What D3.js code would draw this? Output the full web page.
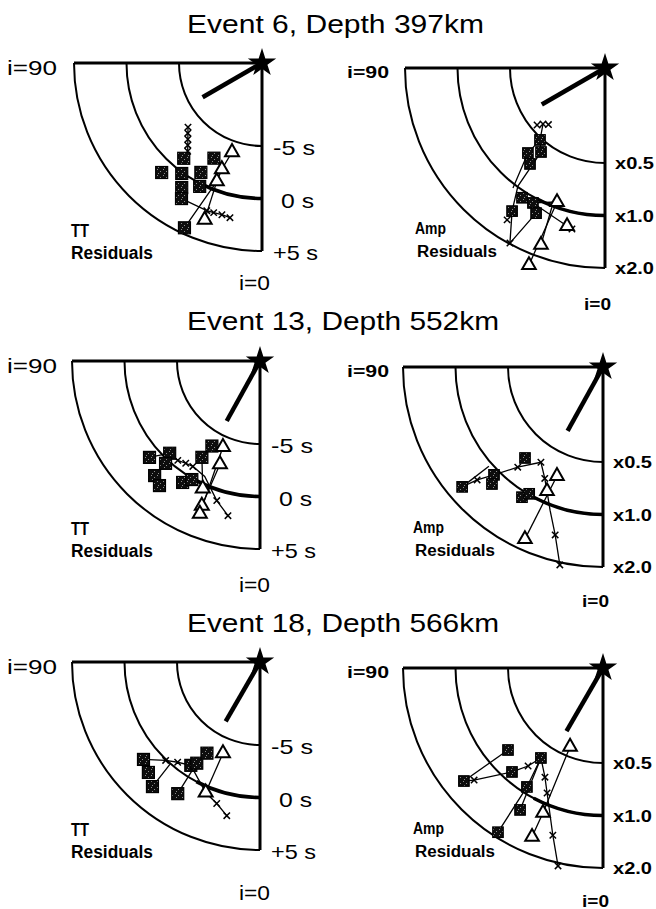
<!DOCTYPE html>
<html>
<head>
<meta charset="utf-8">
<script src="https://cdn.jsdelivr.net/npm/d3@7"></script>
<style>
  html, body { margin: 0; padding: 0; background: #fff; }
  svg { display: block; font-family: "Liberation Sans", Arial, Helvetica, sans-serif; }
</style>
</head>
<body>
<svg id="chart" width="656" height="909"></svg>
<script>
// ---- Titles and axis labels ----
const eventTitles = ["Event 6, Depth 397km", "Event 13, Depth 552km", "Event 18, Depth 566km"];
const ttTicks = [-5, 0, 5];
const ttTickLabels = ["-5 s", "0 s", "+5 s"];
const ampTicks = [0.5, 1, 2];
const ampTickLabels = ["x0.5", "x1.0", "x2.0"];
// incidence angle (deg from vertical) of the arrow drawn from the source
const arrowIncidence = [60, 29, 30];

// ---- Residuals: [incidence angle (deg), residual] ----
// Event 6, travel-time residuals (s)
const ev6TTSquares = [[42.5, 1.24], [39.4, -1.16], [36.0, 0.10], [32.8, 1.21], [30.7, 2.11], [26.8, -2.75], [29.2, -0.97], [26.8, 0.26], [25.2, 4.44]];
const ev6TTTriangles = [[18.6, -3.95], [20.7, -2.09], [20.9, -0.84], [20.1, 2.99]];
const ev6TTCrosses = [[49.1, -3.58], [46.6, -3.18], [44.2, -2.78], [42.1, -2.36], [40.1, -1.92], [20.5, 2.11], [17.9, 2.07], [14.8, 2.04], [11.7, 2.14]];
const ev6TTTraces = [
  [[25.2, 4.44], [20.9, -0.84], [20.7, -2.09], [18.6, -3.95]],
  [[20.1, 2.99], [20.9, -0.84]],
  [[30.7, 2.11], [20.5, 2.11], [17.9, 2.07], [14.8, 2.04], [11.7, 2.14]],
  [[39.4, -1.16], [40.1, -1.92], [49.1, -3.58]]
];
// Event 6, amplitude ratios
const ev6AmpSquares = [[42.1, 0.513], [42.2, 0.649], [37.3, 0.575], [38.0, 0.712], [32.6, 1.09], [33.0, 1.357], [28.1, 1.075], [25.4, 1.19]];
const ev6AmpTriangles = [[19.7, 0.934], [13.5, 1.22], [19.9, 1.71], [21.1, 2.32]];
const ev6AmpCrosses = [[50.0, 0.46], [47.9, 0.43], [45.0, 0.41], [11.6, 1.25], [32.8, 1.55], [28.5, 1.98]];
const ev6AmpTraces = [
  [[47.9, 0.43], [42.1, 0.513], [37.3, 0.575], [36.4, 0.99], [33.0, 1.357], [28.5, 1.98]],
  [[42.1, 0.513], [42.2, 0.649], [37.5, 1.05]],
  [[28.5, 1.98], [25.4, 1.19], [28.1, 1.075], [19.7, 0.934]],
  [[21.1, 2.32], [19.7, 0.934]],
  [[19.9, 1.71], [20.9, 1.02]],
  [[28.1, 1.075], [13.5, 1.22], [11.6, 1.25]]
];
// Event 13, travel-time residuals (s)
const ev13TTSquares = [[48.9, 1.06], [44.4, -0.61], [42.7, 0.36], [42.6, 1.92], [38.9, 2.34], [32.5, 0.81], [29.9, 0.12], [31.1, -2.19], [29.5, -3.6]];
const ev13TTTriangles = [[23.3, -3.98], [21.2, -2.36], [24.2, 0.40], [21.9, 1.95], [21.5, 2.73]];
const ev13TTCrosses = [[39.6, -0.62], [36.0, -0.87], [32.5, -1.0], [17.2, 1.01], [11.7, 2.14]];
const ev13TTTraces = [
  [[44.4, -0.61], [39.6, -0.62], [36.0, -0.87], [32.5, -1.0], [25.6, -0.72], [17.2, 1.01], [11.7, 2.14]],
  [[21.5, 2.73], [23.3, -3.98]],
  [[21.9, 1.95], [21.2, -2.36]],
  [[29.5, -3.6], [31.1, -2.19], [24.2, 0.40]],
  [[48.9, 1.06], [44.4, -0.61]]
];
// Event 13, amplitude ratios
const ev13AmpSquares = [[49.6, 1.64], [45.3, 1.08], [43.5, 1.20], [40.6, 0.694], [31.9, 1.08], [30.2, 0.99]];
const ev13AmpTriangles = [[22.9, 0.68], [24.3, 0.86], [24.4, 1.73]];
const ev13AmpCrosses = [[48.1, 1.33], [40.4, 0.81], [33.1, 0.64], [27.6, 0.75], [15.9, 1.43], [12.3, 2.07]];
const ev13AmpTraces = [
  [[49.6, 1.64], [49.0, 1.05]],
  [[49.6, 1.64], [48.1, 1.33], [45.3, 1.08], [40.4, 0.81], [33.1, 0.64]],
  [[33.1, 0.64], [27.6, 0.75], [24.3, 0.86], [20.3, 1.07], [15.9, 1.43], [12.3, 2.07]],
  [[24.4, 1.73], [22.9, 0.68]]
];
// Event 18, travel-time residuals (s)
const ev18TTSquares = [[50.1, 1.56], [45.3, 2.05], [40.8, 2.77], [32.0, 1.88], [33.8, -1.06], [32.0, -1.54], [30.2, -2.86]];
const ev18TTTriangles = [[22.1, -3.53], [22.6, 0.56]];
const ev18TTCrosses = [[43.8, 0.08], [39.4, -0.55], [17.0, 1.19], [12.2, 2.07]];
const ev18TTTraces = [
  [[50.1, 1.56], [43.8, 0.08], [39.4, -0.55], [33.8, -1.06]],
  [[40.8, 2.77], [41.4, -0.04]],
  [[32.0, 1.88], [32.0, -1.54]],
  [[33.8, -1.06], [22.6, 0.56], [17.0, 1.19], [12.2, 2.07]],
  [[22.6, 0.56], [22.1, -3.53]],
  [[30.2, -2.86], [32.0, -1.54]]
];
// Event 18, amplitude ratios
const ev18AmpSquares = [[49.2, 0.748], [50.9, 1.52], [41.2, 0.884], [34.6, 0.604], [32.6, 0.92], [30.3, 1.25], [32.6, 1.87]];
const ev18AmpTriangles = [[22.7, 0.44], [22.5, 1.13], [22.8, 1.60]];
const ev18AmpCrosses = [[49.0, 1.36], [37.4, 0.727], [28.0, 0.73], [24.1, 0.87], [16.7, 1.43], [12.8, 2.08]];
const ev18AmpTraces = [
  [[49.2, 0.748], [50.9, 1.52]],
  [[50.9, 1.52], [49.0, 1.36], [41.2, 0.884], [37.4, 0.727], [34.6, 0.604]],
  [[34.6, 0.604], [32.6, 0.92], [32.6, 1.87]],
  [[34.6, 0.604], [30.3, 1.25]],
  [[34.6, 0.604], [28.0, 0.73], [24.1, 0.87], [16.7, 1.43], [12.8, 2.08]],
  [[22.8, 1.60], [22.5, 1.13], [22.7, 0.44]]
];

// ---- Layout ----
const rowOriginsLeft = [[262, 63], [260, 361], [260, 662]];
const rowOriginsRight = [[605, 68], [603, 367], [603, 668]];
const titleBaselines = [33, 330, 632];
const titleWidths = [297, 312, 312];
const leftZeroBaselines = [290, 592, 900];
const rightZeroBaselines = [310, 607, 907];

// Radial scales: residual -> distance from the source
const ttRadius = d3.scaleLinear().domain([-5, 5]).range([83, 188]);
const ampRadius = d3.scaleLog().base(2).domain([0.5, 2]).range([95, 200]);
// Angular scale: incidence angle -> radians from straight down
const incidence = d3.scaleLinear().domain([0, 90]).range([0, Math.PI / 2]);

const ttSets = [
  [ev6TTSquares, ev6TTTriangles, ev6TTCrosses, ev6TTTraces],
  [ev13TTSquares, ev13TTTriangles, ev13TTCrosses, ev13TTTraces],
  [ev18TTSquares, ev18TTTriangles, ev18TTCrosses, ev18TTTraces]
];
const ampSets = [
  [ev6AmpSquares, ev6AmpTriangles, ev6AmpCrosses, ev6AmpTraces],
  [ev13AmpSquares, ev13AmpTriangles, ev13AmpCrosses, ev13AmpTraces],
  [ev18AmpSquares, ev18AmpTriangles, ev18AmpCrosses, ev18AmpTraces]
];

const svg = d3.select("#chart");

// dark speckled fill for the square station markers
const defs = svg.append("defs");
const pat = defs.append("pattern").attr("id", "speckle")
  .attr("width", 6).attr("height", 6).attr("patternUnits", "userSpaceOnUse");
pat.append("rect").attr("width", 6).attr("height", 6).attr("fill", "#0d0d0d");
[[1, 1], [4, 3], [2, 5]].forEach(([x, y]) =>
  pat.append("rect").attr("x", x).attr("y", y).attr("width", 1).attr("height", 1).attr("fill", "#8c8c8c"));

function addText(g, txt, x, y, size, weight, width) {
  return g.append("text").attr("x", x).attr("y", y)
    .attr("font-size", size).attr("font-weight", weight)
    .attr("textLength", width).attr("lengthAdjust", "spacingAndGlyphs")
    .attr("fill", "#000").text(txt);
}

function drawPanel(cx, cy, rScale, ticks, sets, opts, row) {
  const g = svg.append("g");
  const pos = p => {
    const a = incidence(p[0]), r = rScale(p[1]);
    return [cx - r * Math.sin(a), cy + r * Math.cos(a)];
  };
  const rOuter = rScale(ticks[ticks.length - 1]);

  // arcs for each tick value (quarter circles from i=0 to i=90)
  ticks.forEach((t, k) => {
    const r = rScale(t);
    const p = d3.path();
    p.moveTo(cx, cy + r);
    p.arc(cx, cy, r, Math.PI / 2, Math.PI, false);
    g.append("path").attr("d", p.toString()).attr("fill", "none")
      .attr("stroke", "#000").attr("stroke-width", 2);
    if (k === 1) {
      // heavier stroke on the near-vertical part of the zero-residual arc
      const q = d3.path();
      q.moveTo(cx, cy + r);
      q.arc(cx, cy, r, Math.PI / 2, Math.PI / 2 + incidence(28), false);
      g.append("path").attr("d", q.toString()).attr("fill", "none")
        .attr("stroke", "#000").attr("stroke-width", 3.6);
    }
  });

  // frame: i=90 horizontal and i=0 vertical
  g.append("line").attr("x1", cx - rOuter).attr("y1", cy).attr("x2", cx).attr("y2", cy)
    .attr("stroke", "#000").attr("stroke-width", 3.2);
  g.append("line").attr("x1", cx).attr("y1", cy).attr("x2", cx).attr("y2", cy + rOuter)
    .attr("stroke", "#000").attr("stroke-width", 3);

  // ray direction arrow from the source
  const aa = incidence(arrowIncidence[row]);
  const L = rOuter * 0.365;
  g.append("line").attr("x1", cx).attr("y1", cy)
    .attr("x2", cx - L * Math.sin(aa)).attr("y2", cy + L * Math.cos(aa))
    .attr("stroke", "#000").attr("stroke-width", 4.5);

  // source star
  g.append("path").attr("d", d3.symbol(d3.symbolStar, 250)())
    .attr("transform", `translate(${cx},${cy})`).attr("fill", "#000");

  const [squares, triangles, crosses, traces] = sets;
  const line = d3.line().x(d => pos(d)[0]).y(d => pos(d)[1]);

  traces.forEach(tr => g.append("path").attr("d", line(tr)).attr("fill", "none")
    .attr("stroke", "#000").attr("stroke-width", 1.3));

  // cross markers
  const cs = 3.2;
  crosses.forEach(c => {
    const [x, y] = pos(c);
    g.append("path").attr("d", `M${x - cs},${y - cs}L${x + cs},${y + cs}M${x - cs},${y + cs}L${x + cs},${y - cs}`)
      .attr("stroke", "#000").attr("stroke-width", 1.5).attr("fill", "none");
  });

  // square markers
  const s = opts.sq;
  squares.forEach(q => {
    const [x, y] = pos(q);
    g.append("rect").attr("x", x - s / 2).attr("y", y - s / 2).attr("width", s).attr("height", s)
      .attr("fill", "url(#speckle)").attr("stroke", "#000").attr("stroke-width", 1.2);
  });

  // open triangle markers
  const tri = d3.symbol(d3.symbolTriangle, opts.tri)();
  triangles.forEach(t => {
    const [x, y] = pos(t);
    g.append("path").attr("d", tri).attr("transform", `translate(${x},${y})`)
      .attr("fill", "#fff").attr("stroke", "#000").attr("stroke-width", 2);
  });

  return g;
}

for (let row = 0; row < 3; row++) {
  // title
  addText(svg, eventTitles[row], 187, titleBaselines[row], 26, "normal", titleWidths[row]);

  // travel-time panel
  const [lx, ly] = rowOriginsLeft[row];
  const gl = drawPanel(lx, ly, ttRadius, ttTicks, ttSets[row], { sq: 12, tri: 84 }, row);
  addText(gl, "i=90", 7, ly + 12, 21, "normal", 50);
  const ttLabelDx = [11, 19, 11];
  const ttLabelW = [42, 33, 45];
  ttTicks.forEach((t, k) => addText(gl, ttTickLabels[k], lx + ttLabelDx[k], ly + ttRadius(t) + 9, 21, "normal", ttLabelW[k]));
  addText(gl, "TT", 71, ly + 174, 18, "bold", 18);
  addText(gl, "Residuals", 71, ly + 196, 18, "bold", 82);
  addText(gl, "i=0", 239, leftZeroBaselines[row], 21, "normal", 31);

  // amplitude panel
  const [rx, ry] = rowOriginsRight[row];
  const gr = drawPanel(rx, ry, ampRadius, ampTicks, ampSets[row], { sq: 10.5, tri: 80 }, row);
  addText(gr, "i=90", 347, ry + 10, 16, "bold", 42);
  ampTicks.forEach((t, k) => addText(gr, ampTickLabels[k], rx + 10, ry + ampRadius(t) + 6, 16, "bold", 39));
  addText(gr, "Amp", rx - 190, ry + 166, 17, "bold", 31);
  addText(gr, "Residuals", rx - 188, ry + 189, 16, "bold", 80);
  addText(gr, "i=0", rx - 21, rightZeroBaselines[row], 16, "bold", 27);
}
</script>
</body>
</html>
